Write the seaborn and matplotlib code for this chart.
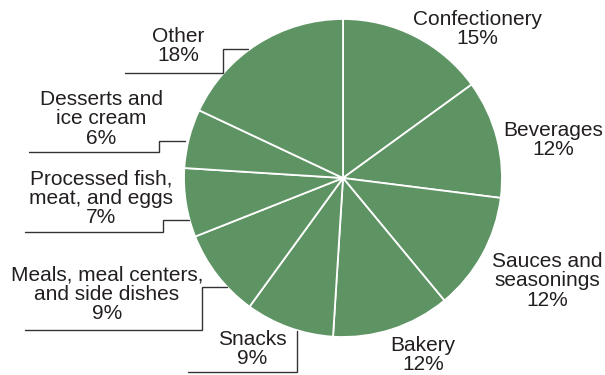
import matplotlib
matplotlib.use("Agg")
import matplotlib.pyplot as plt
import seaborn as sns

# Share of food and beverage categories
categories = [
    "Confectionery", "Beverages", "Sauces and\nseasonings", "Bakery", "Snacks",
    "Meals, meal centers,\nand side dishes", "Processed fish,\nmeat, and eggs",
    "Desserts and\nice cream", "Other",
]
shares = [15, 12, 12, 12, 9, 9, 7, 6, 18]

# Label block centres (pixel space, y measured from top)
label_pos = [
    (477, 29), (553, 140), (547, 281), (423, 355), (252, 349),
    (107, 294), (101, 198), (101, 119), (178, 46),
]

# Elbow leader lines for the labels on the left-hand side
leaders = {
    "Other": [(248, 49.3), (222.7, 49.3), (222.7, 73), (125, 73)],
    "Desserts": [(185, 140.7), (159, 140.7), (159, 152.3), (29, 152.3)],
    "Processed": [(189, 220), (163, 220), (163, 231.7), (25, 231.7)],
    "Meals": [(226.7, 287), (201.7, 287), (201.7, 330), (25, 330)],
    "Snacks": [(296.7, 331), (296.7, 371.7), (187.7, 371.7)],
}

sns.set_style("white")
plt.rcParams["font.family"] = ["Liberation Sans", "DejaVu Sans"]

W, H = 605, 375
fig = plt.figure(figsize=(W / 100, H / 100), dpi=100)
ax = fig.add_axes([0, 0, 1, 1])


def py(y):
    return H - y


green = "#5e9464"
ax.pie(
    shares,
    colors=[green] * len(shares),
    startangle=90,
    counterclock=False,
    center=(343, py(178)),
    radius=159,
    wedgeprops=dict(edgecolor="white", linewidth=1.3),
    frame=True,
)
ax.set_xlim(0, W)
ax.set_ylim(0, H)
ax.set_aspect("equal")
ax.axis("off")

for name, share, (x, y) in zip(categories, shares, label_pos):
    ax.text(x, py(y), f"{name}\n{share}%", ha="center", va="center",
            fontsize=15, color="#231f20", linespacing=1.02)

for pts in leaders.values():
    xs = [p[0] for p in pts]
    ys = [py(p[1]) for p in pts]
    ax.plot(xs, ys, color="#333333", linewidth=1.0, solid_joinstyle="miter")

fig.savefig("out.png", dpi=100)
